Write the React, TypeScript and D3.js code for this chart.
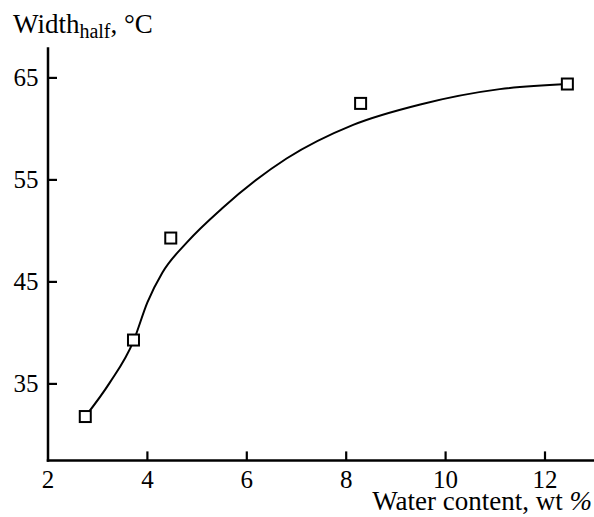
import React from "react";
import * as d3 from "d3";

// Measured points: water content (wt %) vs. half-width (°C)
const waterContent = [2.75, 3.72, 4.47, 8.29, 12.45];
const halfWidth = [31.8, 39.3, 49.3, 62.5, 64.4];

// Fitted trend curve through the data
const fitX = [2.75, 3.24, 3.72, 4.0, 4.3, 4.8, 5.5, 6.8, 8.14, 9.49, 11.09, 12.45];
const fitY = [31.8, 35.1, 39.2, 43.0, 45.9, 48.9, 52.2, 57.1, 60.4, 62.4, 63.9, 64.4];

const xTicks = [2, 4, 6, 8, 10, 12];
const yTicks = [35, 45, 55, 65];

const W = 594;
const H = 517;
const FONT = '"Liberation Serif", "Times New Roman", Times, serif';

export default function App() {
  const x = d3.scaleLinear().domain([2, 13]).range([48, 594.7]);
  const y = d3.scaleLinear().domain([27.5, 68]).range([460.4, 47.3]);

  const fit = fitX.map((v, i) => [v, fitY[i]] as [number, number]);
  const line = d3
    .line<[number, number]>()
    .x((d) => x(d[0]))
    .y((d) => y(d[1]))
    .curve(d3.curveMonotoneX);

  const x0 = x(2);
  const yBase = y(27.5);
  const ms = 11;
  const txt = { fontFamily: FONT, fill: "#000" } as React.CSSProperties;

  return (
    <svg
      width={W}
      height={H}
      style={{ position: "absolute", left: 0, top: 0, background: "#fff" }}
    >
      {/* axes */}
      <line x1={x0} x2={x0} y1={y(68)} y2={yBase + 1.25} stroke="#000" strokeWidth={2.5} />
      <line x1={x0 - 1.25} x2={W} y1={yBase} y2={yBase} stroke="#000" strokeWidth={2.5} />

      {yTicks.map((t) => (
        <g key={"y" + t}>
          <line x1={x0} x2={x0 + 9} y1={y(t)} y2={y(t)} stroke="#000" strokeWidth={2.2} />
          <text x={x0 - 9.5} y={y(t)} dy="0.34em" textAnchor="end" fontSize={25} style={txt}>
            {t}
          </text>
        </g>
      ))}
      {xTicks.map((t) => (
        <g key={"x" + t}>
          {t !== 2 && (
            <line x1={x(t)} x2={x(t)} y1={yBase} y2={yBase - 9} stroke="#000" strokeWidth={2.2} />
          )}
          <text x={x(t)} y={487.5} textAnchor="middle" fontSize={25} style={txt}>
            {t}
          </text>
        </g>
      ))}

      {/* axis titles */}
      <text x={13} y={33} fontSize={27} style={txt}>
        Width
        <tspan fontSize={20} dy={5}>half</tspan>
        <tspan dy={-5}>, °C</tspan>
      </text>
      <text x={592} y={510} textAnchor="end" fontSize={27} style={txt}>
        Water content, wt <tspan fontStyle="italic">%</tspan>
      </text>

      {/* fitted curve */}
      <path d={line(fit) ?? ""} fill="none" stroke="#000" strokeWidth={2} />

      {/* data markers */}
      {waterContent.map((v, i) => (
        <rect
          key={i}
          x={x(v) - ms / 2}
          y={y(halfWidth[i]) - ms / 2}
          width={ms}
          height={ms}
          fill="#fff"
          stroke="#000"
          strokeWidth={2}
        />
      ))}
    </svg>
  );
}
